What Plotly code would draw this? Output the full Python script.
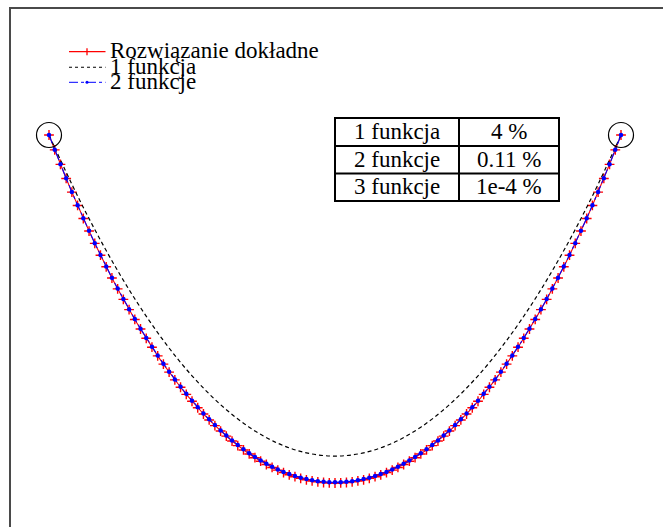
import plotly.graph_objects as go

# Nodes of the exact solution and of the two-function approximation
x_pts = [
    -1.00, -0.98, -0.96, -0.94, -0.92, -0.90, -0.88, -0.86, -0.84, -0.82,
    -0.80, -0.78, -0.76, -0.74, -0.72, -0.70, -0.68, -0.66, -0.64, -0.62,
    -0.60, -0.58, -0.56, -0.54, -0.52, -0.50, -0.48, -0.46, -0.44, -0.42,
    -0.40, -0.38, -0.36, -0.34, -0.32, -0.30, -0.28, -0.26, -0.24, -0.22,
    -0.20, -0.18, -0.16, -0.14, -0.12, -0.10, -0.08, -0.06, -0.04, -0.02,
    0.00,
    0.02, 0.04, 0.06, 0.08, 0.10, 0.12, 0.14, 0.16, 0.18, 0.20,
    0.22, 0.24, 0.26, 0.28, 0.30, 0.32, 0.34, 0.36, 0.38, 0.40,
    0.42, 0.44, 0.46, 0.48, 0.50, 0.52, 0.54, 0.56, 0.58, 0.60,
    0.62, 0.64, 0.66, 0.68, 0.70, 0.72, 0.74, 0.76, 0.78, 0.80,
    0.82, 0.84, 0.86, 0.88, 0.90, 0.92, 0.94, 0.96, 0.98, 1.00,
]

y_exact = [
    1.5431, 1.5199, 1.4973, 1.4753, 1.4539, 1.4331, 1.4128, 1.3932, 1.3740, 1.3555,
    1.3374, 1.3199, 1.3030, 1.2865, 1.2706, 1.2552, 1.2403, 1.2258, 1.2119, 1.1984,
    1.1855, 1.1730, 1.1609, 1.1494, 1.1383, 1.1276, 1.1174, 1.1077, 1.0984, 1.0895,
    1.0811, 1.0731, 1.0655, 1.0584, 1.0516, 1.0453, 1.0395, 1.0340, 1.0289, 1.0243,
    1.0201, 1.0162, 1.0128, 1.0098, 1.0072, 1.0050, 1.0032, 1.0018, 1.0008, 1.0002,
    1.0000,
    1.0002, 1.0008, 1.0018, 1.0032, 1.0050, 1.0072, 1.0098, 1.0128, 1.0162, 1.0201,
    1.0243, 1.0289, 1.0340, 1.0395, 1.0453, 1.0516, 1.0584, 1.0655, 1.0731, 1.0811,
    1.0895, 1.0984, 1.1077, 1.1174, 1.1276, 1.1383, 1.1494, 1.1609, 1.1730, 1.1855,
    1.1984, 1.2119, 1.2258, 1.2403, 1.2552, 1.2706, 1.2865, 1.3030, 1.3199, 1.3374,
    1.3555, 1.3740, 1.3932, 1.4128, 1.4331, 1.4539, 1.4753, 1.4973, 1.5199, 1.5431,
]

y_two = [
    1.5431, 1.5199, 1.4974, 1.4754, 1.4541, 1.4333, 1.4130, 1.3935, 1.3743, 1.3559,
    1.3378, 1.3203, 1.3035, 1.2870, 1.2711, 1.2558, 1.2409, 1.2264, 1.2125, 1.1991,
    1.1862, 1.1737, 1.1617, 1.1502, 1.1391, 1.1284, 1.1182, 1.1086, 1.0993, 1.0904,
    1.0820, 1.0740, 1.0665, 1.0594, 1.0526, 1.0463, 1.0405, 1.0350, 1.0299, 1.0253,
    1.0212, 1.0173, 1.0139, 1.0109, 1.0083, 1.0061, 1.0043, 1.0029, 1.0019, 1.0013,
    1.0011,
    1.0013, 1.0019, 1.0029, 1.0043, 1.0061, 1.0083, 1.0109, 1.0139, 1.0173, 1.0212,
    1.0253, 1.0299, 1.0350, 1.0405, 1.0463, 1.0526, 1.0594, 1.0665, 1.0740, 1.0820,
    1.0904, 1.0993, 1.1086, 1.1182, 1.1284, 1.1391, 1.1502, 1.1617, 1.1737, 1.1862,
    1.1991, 1.2125, 1.2264, 1.2409, 1.2558, 1.2711, 1.2870, 1.3035, 1.3203, 1.3378,
    1.3559, 1.3743, 1.3935, 1.4130, 1.4333, 1.4541, 1.4754, 1.4974, 1.5199, 1.5431,
]

# One-function approximation (drawn without markers)
x_one = [-1.0, -0.9, -0.8, -0.7, -0.6, -0.5, -0.4, -0.3, -0.2, -0.1, 0.0,
         0.1, 0.2, 0.3, 0.4, 0.5, 0.6, 0.7, 0.8, 0.9, 1.0]
y_one = [1.5431, 1.4479, 1.3627, 1.2875, 1.2224, 1.1673, 1.1222, 1.0871, 1.0620, 1.0470, 1.0420,
         1.0470, 1.0620, 1.0871, 1.1222, 1.1673, 1.2224, 1.2875, 1.3627, 1.4479, 1.5431]

# Boundary conditions
end_x = [-1.0, 1.0]
end_y = [1.5431, 1.5431]

legend_names = ["Rozwiązanie dokładne", "1 funkcja", "2 funkcje"]
table_labels = ["1 funkcja", "2 funkcje", "3 funkcje"]
table_errors = ["4 %", "0.11 %", "1e-4 %"]

W, H = 665, 527
ML, MT, MR, MB = 11, 9, 2, 0
FONT = "'Liberation Serif', 'Times New Roman', serif"
FSIZE = 23


def px(x):
    return (x - ML) / (W - ML - MR)


def py(y):
    return 1 - (y - MT) / (H - MT - MB)


fig = go.Figure()

fig.add_trace(go.Scatter(
    x=x_pts, y=y_exact, mode="lines+markers", name=legend_names[0],
    line=dict(color="red", width=1.1),
    marker=dict(symbol="cross-thin", size=7, line=dict(color="red", width=1.4)),
))
fig.add_trace(go.Scatter(
    x=x_one, y=y_one, mode="lines", name=legend_names[1],
    line=dict(color="black", width=1.2, dash="4px,3px", shape="spline"),
))
fig.add_trace(go.Scatter(
    x=x_pts, y=y_two, mode="lines+markers", name=legend_names[2],
    line=dict(color="blue", width=1.1, dash="dashdot"),
    marker=dict(symbol="circle", size=4.5, color="blue"),
))
fig.add_trace(go.Scatter(
    x=end_x, y=end_y, mode="markers", showlegend=False,
    marker=dict(symbol="circle-open", size=25, color="black", line=dict(width=1.2, color="black")),
))

shapes = []
annotations = []

# Hand-drawn legend in the upper-left corner
rows_y = [51.7, 67.2, 82.3]
styles = [("red", "solid", 1.3), ("black", "3px,3px", 1.1), ("blue", "dashdot", 1.0)]
for ry, (col, dash, w), name in zip(rows_y, styles, legend_names):
    shapes.append(dict(type="line", xref="paper", yref="paper",
                       x0=px(69), x1=px(105.5), y0=py(ry), y1=py(ry),
                       line=dict(color=col, width=w, dash=dash)))
    annotations.append(dict(text=name, xref="paper", yref="paper",
                            x=px(108), y=py(ry - 1.0), xanchor="left", yanchor="middle",
                            showarrow=False, font=dict(family=FONT, size=FSIZE, color="black")))
# red cross in the first sample
shapes.append(dict(type="line", xref="paper", yref="paper", x0=px(87), x1=px(87),
                   y0=py(48.2), y1=py(55.2), line=dict(color="red", width=1.3)))
# blue dot in the third sample
shapes.append(dict(type="circle", xref="paper", yref="paper",
                   x0=px(85.5), x1=px(88.5), y0=py(80.8), y1=py(83.8),
                   fillcolor="blue", line=dict(color="blue", width=0)))

# Error table
tx0, tx1, txm = 335, 559, 459
ty = [118, 146, 173.5, 201]
shapes.append(dict(type="rect", xref="paper", yref="paper",
                   x0=px(tx0), x1=px(tx1), y0=py(ty[0]), y1=py(ty[3]),
                   line=dict(color="black", width=2)))
shapes.append(dict(type="line", xref="paper", yref="paper",
                   x0=px(txm), x1=px(txm), y0=py(ty[0]), y1=py(ty[3]),
                   line=dict(color="black", width=2)))
for yy in ty[1:3]:
    shapes.append(dict(type="line", xref="paper", yref="paper",
                       x0=px(tx0), x1=px(tx1), y0=py(yy), y1=py(yy),
                       line=dict(color="black", width=2)))
for i, (lab, err) in enumerate(zip(table_labels, table_errors)):
    cy = (ty[i] + ty[i + 1]) / 2 - 0.5
    annotations.append(dict(text=lab, xref="paper", yref="paper",
                            x=px((tx0 + txm) / 2), y=py(cy), xanchor="center", yanchor="middle",
                            showarrow=False, font=dict(family=FONT, size=FSIZE, color="black")))
    annotations.append(dict(text=err, xref="paper", yref="paper",
                            x=px((txm + tx1) / 2), y=py(cy), xanchor="center", yanchor="middle",
                            showarrow=False, font=dict(family=FONT, size=FSIZE, color="black")))

# axis ranges: x = -1 sits at 49 px, x = 1 at 621 px; y = 1 at 483 px, y = cosh(1) at 135 px
sx = 286.0
sy = 640.8
x0 = -1 - (49 - ML) / sx
x1 = x0 + (W - ML - MR) / sx
y1 = 1 + (483 - MT) / sy
y0 = y1 - (H - MT - MB) / sy

fig.update_layout(
    width=W, height=H,
    margin=dict(l=ML, r=MR, t=MT, b=MB, pad=0),
    paper_bgcolor="white", plot_bgcolor="white",
    showlegend=False,
    shapes=shapes, annotations=annotations,
    xaxis=dict(range=[x0, x1], showgrid=False, zeroline=False, showticklabels=False,
               ticks="", showline=True, side="top", linecolor="#4a4a4a", linewidth=2,
               fixedrange=True),
    yaxis=dict(range=[y0, y1], showgrid=False, zeroline=False, showticklabels=False,
               ticks="", showline=True, linecolor="#4a4a4a", linewidth=2, fixedrange=True),
)

fig.write_html(
    "out.html",
    config={"displayModeBar": False, "staticPlot": True},
    post_script="document.documentElement.style.overflow = 'hidden';"
                "document.body.style.overflow = 'hidden';"
                "document.body.style.margin = '0';",
)
